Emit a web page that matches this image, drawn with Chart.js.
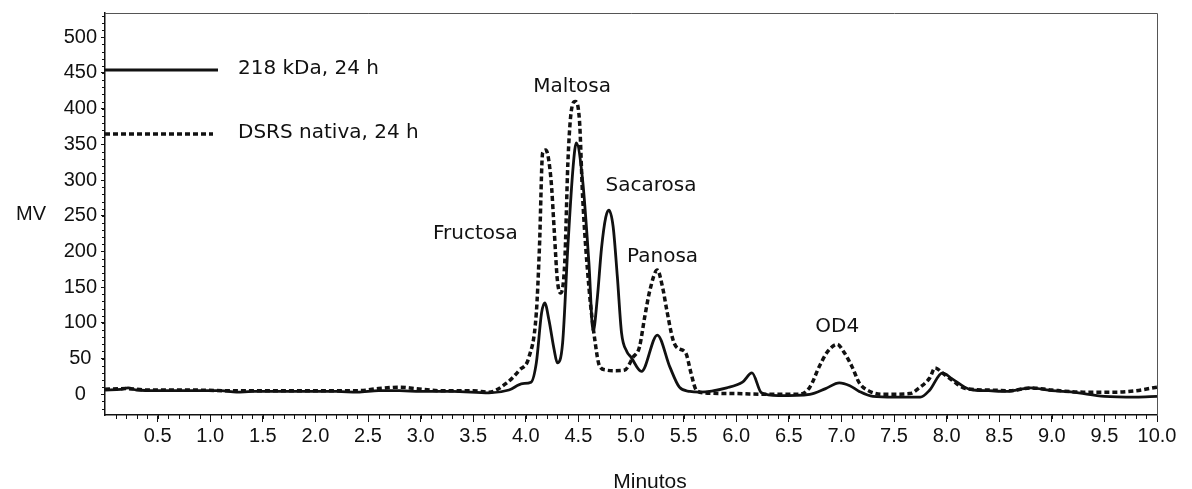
<!DOCTYPE html>
<html>
<head>
<meta charset="utf-8">
<script src="https://cdn.jsdelivr.net/npm/chart.js@4.4.1/dist/chart.umd.min.js"></script>
<style>
  html, body { margin: 0; padding: 0; background: #fff; }
  #wrap { width: 1192px; height: 489px; }
</style>
</head>
<body>
<div id="wrap"><canvas id="chart" width="1192" height="489"></canvas></div>
<script>
// 218 kDa, 24 h (solid)
const solidTime = [0.00, 0.15, 0.22, 0.30, 0.50, 0.80, 1.10, 1.25, 1.40, 1.80, 2.20, 2.40, 2.60, 2.80, 3.00, 3.30, 3.65, 3.84, 3.97, 4.05, 4.10, 4.15, 4.18, 4.22, 4.27, 4.30, 4.35, 4.40, 4.45, 4.48, 4.54, 4.60, 4.64, 4.68, 4.72, 4.76, 4.79, 4.83, 4.87, 4.91, 4.96, 5.00, 5.10, 5.25, 5.37, 5.46, 5.56, 5.65, 5.91, 6.06, 6.15, 6.24, 6.40, 6.70, 6.85, 6.98, 7.08, 7.17, 7.30, 7.50, 7.75, 7.84, 7.96, 8.05, 8.22, 8.40, 8.57, 8.80, 9.00, 9.20, 9.50, 9.80, 10.0];
const solidMV   = [6, 7, 9, 6, 5, 5, 5, 3, 4, 4, 4, 3, 5, 5, 4, 4, 2, 6, 15, 17, 44, 114, 128, 104, 62, 44, 72, 207, 319, 352, 300, 184, 88, 135, 205, 248, 258, 235, 165, 86, 60, 52, 32, 83, 38, 10, 4, 3, 9, 17, 30, 2, -2, 0, 8, 16, 12, 4, -3, -4, -4, 6, 30, 22, 7, 5, 4, 9, 5, 3, -3, -4, -3];

// DSRS nativa, 24 h (dotted)
const dotTime = [0.00, 0.20, 0.40, 0.80, 1.20, 1.60, 2.00, 2.40, 2.60, 2.80, 2.95, 3.20, 3.50, 3.65, 3.82, 3.94, 4.03, 4.10, 4.13, 4.16, 4.19, 4.24, 4.27, 4.30, 4.33, 4.37, 4.40, 4.43, 4.47, 4.51, 4.54, 4.60, 4.66, 4.70, 4.76, 4.85, 4.94, 5.02, 5.08, 5.13, 5.18, 5.25, 5.30, 5.34, 5.40, 5.44, 5.52, 5.57, 5.62, 5.70, 6.00, 6.30, 6.60, 6.70, 6.79, 6.87, 6.96, 7.02, 7.10, 7.17, 7.27, 7.40, 7.65, 7.74, 7.84, 7.89, 7.96, 8.05, 8.18, 8.40, 8.60, 8.80, 9.00, 9.30, 9.60, 9.80, 10.0];
const dotMV   = [7, 8, 6, 6, 5, 5, 5, 5, 8, 10, 8, 5, 5, 3, 16, 34, 52, 114, 207, 338, 342, 300, 230, 160, 142, 184, 324, 394, 410, 384, 277, 150, 72, 40, 34, 33, 34, 52, 66, 108, 146, 174, 150, 118, 76, 65, 58, 30, 6, 2, 1, 0, 0, 10, 39, 60, 70, 60, 39, 16, 4, 0, 1, 9, 23, 37, 30, 20, 8, 6, 5, 9, 6, 3, 3, 5, 10];

const xTicks = [0.5, 1.0, 1.5, 2.0, 2.5, 3.0, 3.5, 4.0, 4.5, 5.0, 5.5, 6.0, 6.5, 7.0, 7.5, 8.0, 8.5, 9.0, 9.5, 10.0];
const yTicks = [0, 50, 100, 150, 200, 250, 300, 350, 400, 450, 500];

const seriesNames = ["218 kDa, 24 h", "DSRS nativa, 24 h"];
const peakNames = ["Maltosa", "Fructosa", "Sacarosa", "Panosa", "OD4"];
const peakTime  = [4.44, 3.52, 5.19, 5.30, 6.96];
const peakMV    = [430, 225, 292, 192, 94];

const ink = "#111";
const tickFont = { family: "'Liberation Sans', Arial, sans-serif", size: 20 };
const noteFont = "20px 'DejaVu Sans', sans-serif";

const decor = {
  id: "decor",
  afterDraw(chart) {
    const { ctx, chartArea: a, scales } = chart;
    const xs = scales.x, ys = scales.y;
    ctx.save();
    // frame top/right
    ctx.strokeStyle = "#555";
    ctx.lineWidth = 1;
    ctx.beginPath();
    ctx.moveTo(a.left, a.top + 0.5);
    ctx.lineTo(a.right + 0.5, a.top + 0.5);
    ctx.lineTo(a.right + 0.5, a.bottom);
    ctx.stroke();
    // minor ticks
    ctx.strokeStyle = ink;
    ctx.beginPath();
    for (let i = 1; i < 100; i++) {
      const px = Math.round(xs.getPixelForValue(i / 10)) + 0.5;
      ctx.moveTo(px, a.bottom);
      ctx.lineTo(px, a.bottom + 4);
    }
    for (let v = -20; v <= 530; v += 10) {
      const py = Math.round(ys.getPixelForValue(v)) + 0.5;
      ctx.moveTo(a.left, py);
      ctx.lineTo(a.left - 3, py);
    }
    ctx.stroke();

    // axis titles
    ctx.fillStyle = ink;
    ctx.textAlign = "center";
    ctx.textBaseline = "middle";
    ctx.font = "20px 'Liberation Sans', Arial, sans-serif";
    ctx.fillText("MV", 31, 214);
    ctx.textBaseline = "alphabetic";
    ctx.font = "21px 'Liberation Sans', Arial, sans-serif";
    ctx.fillText("Minutos", 650, 488);

    // legend
    ctx.lineWidth = 3;
    ctx.beginPath();
    ctx.moveTo(a.left, a.top + 57);
    ctx.lineTo(a.left + 113, a.top + 57);
    ctx.stroke();
    ctx.setLineDash([5, 3]);
    ctx.lineWidth = 3.5;
    ctx.beginPath();
    ctx.moveTo(a.left, a.top + 121);
    ctx.lineTo(a.left + 108, a.top + 121);
    ctx.stroke();
    ctx.setLineDash([]);
    ctx.font = noteFont;
    ctx.textAlign = "left";
    ctx.textBaseline = "middle";
    ctx.fillText(seriesNames[0], a.left + 133, a.top + 56);
    ctx.fillText(seriesNames[1], a.left + 133, a.top + 120);

    // peak names
    ctx.textAlign = "center";
    peakNames.forEach((n, i) => {
      ctx.fillText(n, xs.getPixelForValue(peakTime[i]), ys.getPixelForValue(peakMV[i]));
    });
    ctx.restore();
  }
};

const toPts = (t, v) => t.map((x, i) => ({ x, y: v[i] }));

new Chart(document.getElementById("chart"), {
  type: "line",
  data: {
    datasets: [
      {
        label: seriesNames[1],
        data: toPts(dotTime, dotMV),
        borderColor: ink,
        borderWidth: 3.5,
        borderDash: [5, 3],
        pointRadius: 0,
        cubicInterpolationMode: "monotone",
        fill: false
      },
      {
        label: seriesNames[0],
        data: toPts(solidTime, solidMV),
        borderColor: ink,
        borderWidth: 2.8,
        pointRadius: 0,
        cubicInterpolationMode: "monotone",
        fill: false
      }
    ]
  },
  options: {
    responsive: false,
    animation: false,
    layout: { padding: { left: 0, right: 35, top: 13, bottom: 0 } },
    plugins: { legend: { display: false }, tooltip: { enabled: false } },
    scales: {
      x: {
        type: "linear",
        min: 0,
        max: 10,
        afterFit(s) { s.height = 74; s.paddingLeft = 0; s.paddingRight = 0; },
        afterBuildTicks(s) { s.ticks = xTicks.map(v => ({ value: v })); },
        grid: { drawOnChartArea: false, drawTicks: true, tickLength: 7, color: ink },
        border: { display: true, color: ink, width: 1.5 },
        ticks: {
          color: ink,
          font: tickFont,
          padding: 2,
          maxRotation: 0,
          autoSkip: false,
          callback: v => v.toFixed(1)
        }
      },
      y: {
        type: "linear",
        min: -29,
        max: 534,
        afterFit(s) { s.width = 105; s.paddingTop = 0; s.paddingBottom = 0; },
        afterBuildTicks(s) { s.ticks = yTicks.map(v => ({ value: v })); },
        grid: { drawOnChartArea: false, drawTicks: true, tickLength: 4, color: ink },
        border: { display: true, color: ink, width: 1.5 },
        ticks: {
          color: ink,
          font: tickFont,
          padding: 4,
          crossAlign: "center",
          autoSkip: false,
          callback: v => String(v)
        }
      }
    }
  },
  plugins: [decor]
});
</script>
</body>
</html>
